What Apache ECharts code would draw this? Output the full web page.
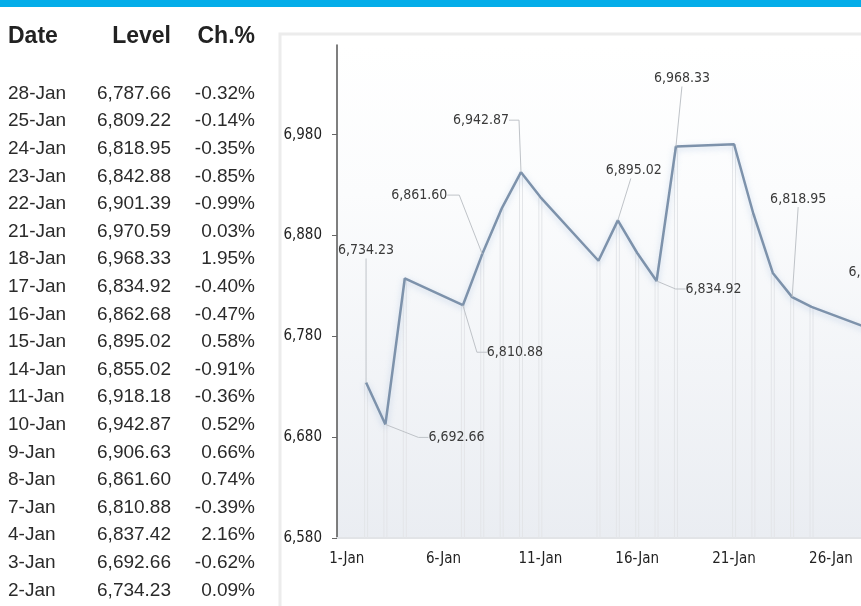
<!DOCTYPE html>
<html>
<head>
<meta charset="utf-8">
<script src="https://cdn.jsdelivr.net/npm/echarts@6/dist/echarts.min.js"></script>
<style>
  html, body { margin: 0; padding: 0; overflow: hidden; background: #fff; }
  #chart { width: 900px; height: 606px; }
</style>
</head>
<body>
<div id="chart"></div>
<script>
// Daily closing levels for January, newest first (as listed in the table)
const dates   = ['28-Jan','25-Jan','24-Jan','23-Jan','22-Jan','21-Jan','18-Jan','17-Jan','16-Jan','15-Jan','14-Jan','11-Jan','10-Jan','9-Jan','8-Jan','7-Jan','4-Jan','3-Jan','2-Jan'];
const days    = [28, 25, 24, 23, 22, 21, 18, 17, 16, 15, 14, 11, 10, 9, 8, 7, 4, 3, 2];
const levels  = [6787.66, 6809.22, 6818.95, 6842.88, 6901.39, 6970.59, 6968.33, 6834.92, 6862.68, 6895.02, 6855.02, 6918.18, 6942.87, 6906.63, 6861.60, 6810.88, 6837.42, 6692.66, 6734.23];
const changes = [-0.32, -0.14, -0.35, -0.85, -0.99, 0.03, 1.95, -0.40, -0.47, 0.58, -0.91, -0.36, 0.52, 0.66, 0.74, -0.39, 2.16, -0.62, 0.09];

// Axis ticks
const yTicks = [6580, 6680, 6780, 6880, 6980];
const xTicks = [1, 6, 11, 16, 21, 26];

// Days whose value is annotated on the line
const labelledDays = [2, 3, 7, 8, 10, 15, 17, 18, 24, 28];

// Callout placement: pixel offset of the label centre from its point, and leader shape
const callout = {
  2:  { off: [0, -132],  leader: 'vertical' },
  3:  { off: [71, 13],   leader: 'toLeft' },
  7:  { off: [52, 47],   leader: 'toLeft' },
  8:  { off: [-63, -59], leader: 'fromRight' },
  10: { off: [-40, -52], leader: 'fromRightDown' },
  15: { off: [16, -50],  leader: 'diagonal' },
  17: { off: [57, 8],    leader: 'toLeft' },
  18: { off: [6, -68],   leader: 'vertical' },
  24: { off: [6, -98],   leader: 'vertical' },
  28: { off: [7, -56],   leader: 'vertical' }
};

const fmtLevel = v => v.toLocaleString('en-US', { minimumFractionDigits: 2, maximumFractionDigits: 2 });
const fmtInt = v => v.toLocaleString('en-US');
const fmtChg = v => v.toFixed(2) + '%';

// Line data in chronological order
const series = days.map((d, i) => [d, levels[i]]).sort((a, b) => a[0] - b[0]);
const calloutData = series.filter(p => labelledDays.includes(p[0]));

const NARROW = '"Liberation Sans Narrow", "DejaVu Sans Condensed", "Liberation Sans", sans-serif';
const TABLE_FONT = '"Liberation Sans", Arial, sans-serif';

// Table on the left
const tableGraphics = [];
const headerY = 37, rowY0 = 93.5, rowStep = 27.6;
const colDateX = 8, colLevelX = 171, colChgX = 255;
const headFont = 'bold 23px ' + TABLE_FONT;
const rowFont = '19px ' + TABLE_FONT;
tableGraphics.push(
  { type: 'text', x: colDateX, y: headerY, style: { text: 'Date', font: headFont, fill: '#222', align: 'left', verticalAlign: 'middle' } },
  { type: 'text', x: colLevelX, y: headerY, style: { text: 'Level', font: headFont, fill: '#222', align: 'right', verticalAlign: 'middle' } },
  { type: 'text', x: colChgX, y: headerY, style: { text: 'Ch.%', font: headFont, fill: '#222', align: 'right', verticalAlign: 'middle' } }
);
dates.forEach((d, i) => {
  const y = rowY0 + i * rowStep;
  tableGraphics.push(
    { type: 'text', x: colDateX, y: y, style: { text: d, font: rowFont, fill: '#2b2b2b', align: 'left', verticalAlign: 'middle' } },
    { type: 'text', x: colLevelX, y: y, style: { text: fmtLevel(levels[i]), font: rowFont, fill: '#2b2b2b', align: 'right', verticalAlign: 'middle' } },
    { type: 'text', x: colChgX, y: y, style: { text: fmtChg(changes[i]), font: rowFont, fill: '#2b2b2b', align: 'right', verticalAlign: 'middle' } }
  );
});

// Leader line geometry for a callout, from label centre (lx, ly) to point (cx, cy)
function leaderPoints(kind, lx, ly, cx, cy) {
  const hw = 28, hh = 8;
  switch (kind) {
    case 'vertical':      return [[lx, ly + hh], [cx, cy]];
    case 'toLeft':        return [[cx, cy], [lx - hw - 10, ly], [lx - hw, ly]];
    case 'fromRight':     return [[lx + hw, ly], [lx + hw + 12, ly], [cx, cy]];
    case 'fromRightDown': return [[lx + hw, ly], [cx - 2, ly], [cx, cy]];
    default:              return [[lx - 3, ly + hh], [cx, cy]];
  }
}

const chart = echarts.init(document.getElementById('chart'), null, { renderer: 'canvas' });

const option = {
  backgroundColor: '#ffffff',
  animation: false,
  graphic: [
    // top banner
    { type: 'rect', shape: { x: 0, y: 0, width: 900, height: 7 }, style: { fill: '#04ade9' }, z: 10 },
    // faint chart frame
    { type: 'rect', shape: { x: 280, y: 34, width: 700, height: 700 }, style: { fill: 'none', stroke: '#ececec', lineWidth: 3 }, z: -1 },
    ...tableGraphics
  ],
  grid: {
    left: 337, top: 45, right: 11, bottom: 68,
    show: true,
    borderWidth: 0,
    backgroundColor: new echarts.graphic.LinearGradient(0, 0, 0, 1, [
      { offset: 0, color: '#ffffff' },
      { offset: 0.3, color: '#fbfcfd' },
      { offset: 1, color: '#eaedf2' }
    ])
  },
  xAxis: {
    type: 'value',
    min: 0.5,
    max: 29,
    splitLine: { show: false },
    axisLine: { show: true, lineStyle: { color: '#e2e4e7', width: 2 } },
    axisTick: { show: false },
    axisLabel: {
      customValues: xTicks,
      formatter: v => v + '-Jan',
      fontFamily: NARROW, fontSize: 15, color: '#222', margin: 14
    }
  },
  yAxis: {
    type: 'value',
    min: 6580,
    max: 7069,
    splitLine: { show: false },
    axisLine: { show: true, lineStyle: { color: '#555', width: 1.5 } },
    axisTick: { show: true, customValues: yTicks, length: 5, lineStyle: { color: '#666' } },
    axisLabel: {
      customValues: yTicks,
      formatter: v => fmtInt(v),
      fontFamily: NARROW, fontSize: 15, color: '#222', margin: 15
    }
  },
  series: [
    {
      // vertical drop lines from each close down to the base
      type: 'custom',
      data: series,
      z: 1,
      silent: true,
      clip: true,
      renderItem: (params, api) => {
        const top = api.coord([api.value(0), api.value(1)]);
        const bottom = api.coord([api.value(0), yTicks[0]]);
        return {
          type: 'group',
          children: [
            { type: 'line', shape: { x1: top[0] - 1.5, y1: top[1], x2: bottom[0] - 1.5, y2: bottom[1] }, style: { stroke: '#e3e5e8', lineWidth: 1 } },
            { type: 'line', shape: { x1: top[0] + 1.5, y1: top[1], x2: bottom[0] + 1.5, y2: bottom[1] }, style: { stroke: '#e3e5e8', lineWidth: 1 } }
          ]
        };
      }
    },
    {
      type: 'line',
      data: series,
      z: 3,
      showSymbol: false,
      lineStyle: {
        color: '#7d92ab', width: 2.5,
        shadowColor: 'rgba(110,150,200,0.35)', shadowBlur: 6, shadowOffsetY: 2
      }
    },
    {
      // value callouts with leader lines
      type: 'custom',
      data: calloutData,
      z: 4,
      silent: true,
      clip: false,
      renderItem: (params, api) => {
        const d = api.value(0), v = api.value(1);
        const pt = api.coord([d, v]);
        const c = callout[d];
        const lx = pt[0] + c.off[0], ly = pt[1] + c.off[1];
        return {
          type: 'group',
          children: [
            {
              type: 'polyline', z2: 1,
              shape: { points: leaderPoints(c.leader, lx, ly, pt[0], pt[1]) },
              style: { stroke: '#bfc3c8', lineWidth: 1, fill: null }
            },
            {
              type: 'text', z2: 2, x: lx, y: ly,
              style: {
                text: fmtLevel(v), font: '14px ' + NARROW, fill: '#3a3a3a',
                align: 'center', verticalAlign: 'middle'
              }
            }
          ]
        };
      }
    }
  ]
};

chart.setOption(option);
</script>
</body>
</html>
